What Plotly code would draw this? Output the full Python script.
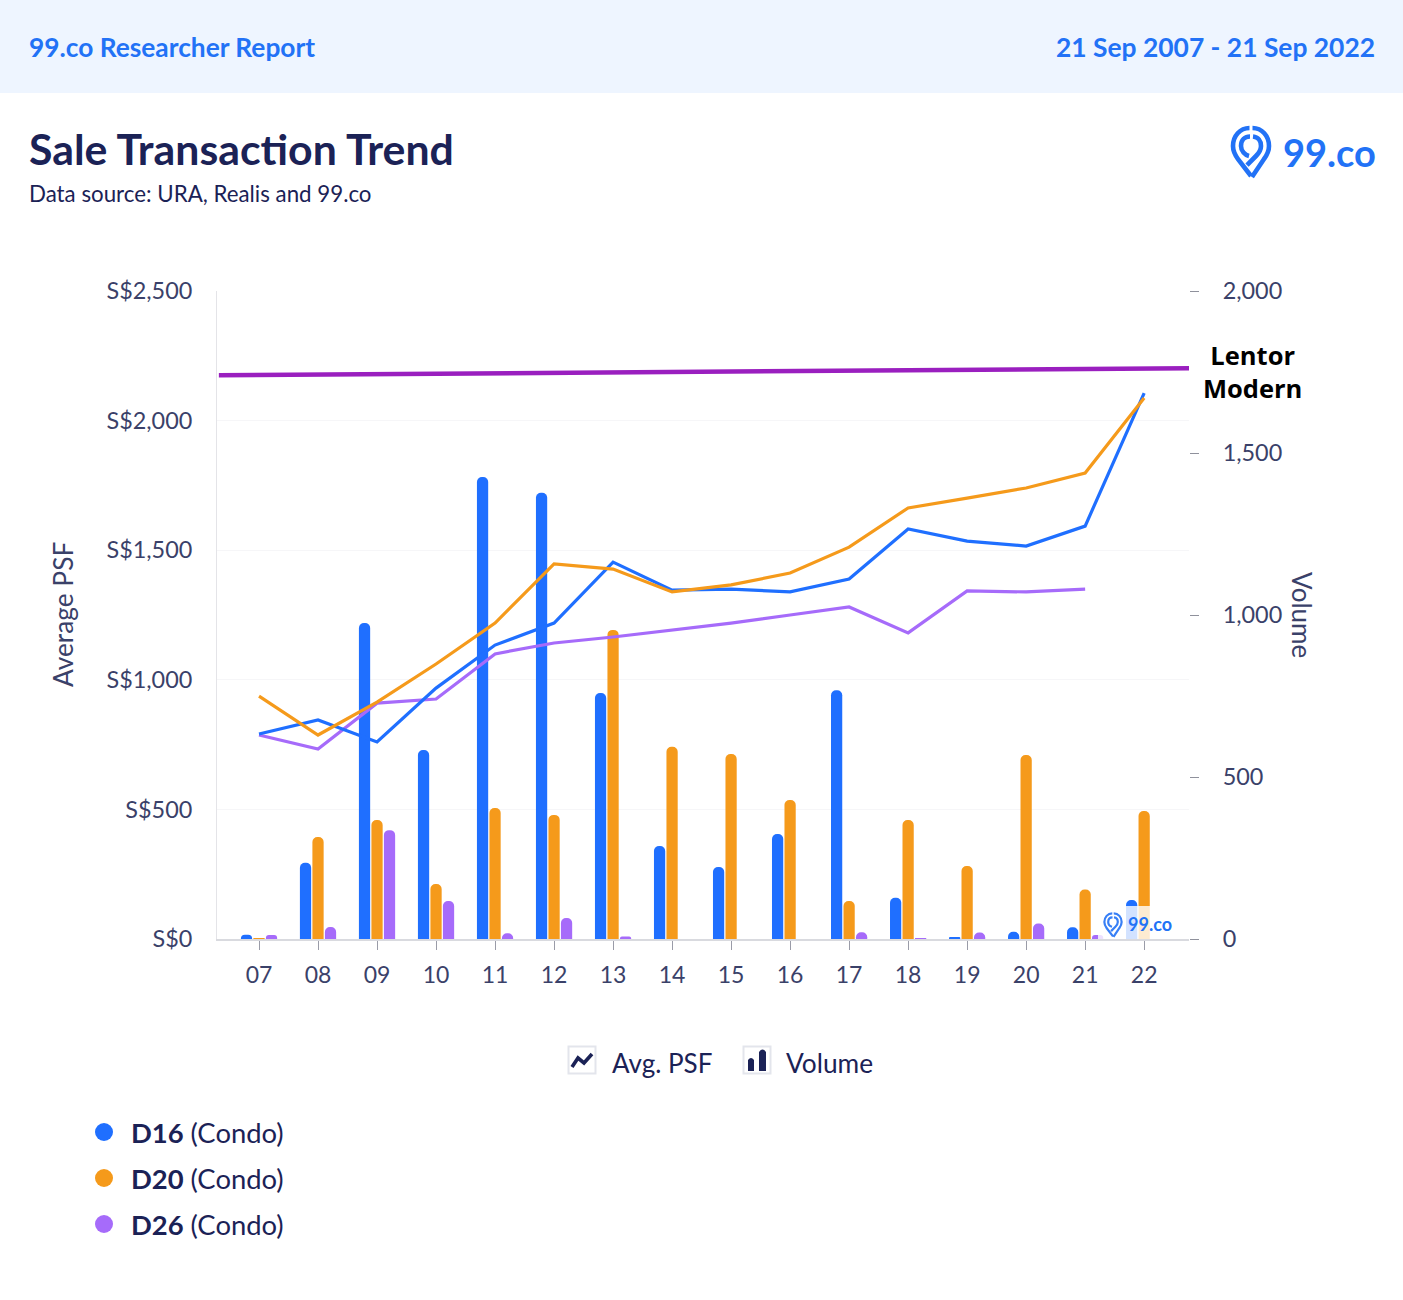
import plotly.graph_objects as go

categories = ["07","08","09","10","11","12","13","14","15","16","17","18","19","20","21","22"]
positions = list(range(len(categories)))

vol_d16 = [13,235,975,583,1426,1377,759,287,222,324,768,127,4,22,36,120]
vol_d20 = [3,315,367,170,404,383,954,593,571,429,117,367,225,568,153,395]
vol_d26 = [12,37,336,117,18,65,8,None,None,None,21,3,20,48,12,None]

psf_d16 = [791,845,760,968,1134,1219,1454,1346,1350,1339,1389,1582,1535,1516,1593,2106]
psf_d20 = [937,787,914,1061,1219,1447,1427,1339,1366,1412,1512,1663,1701,1740,1798,2087]
psf_d26 = [787,733,910,926,1100,1142,1165,1192,1219,1250,1281,1181,1343,1339,1350,None]

lentor_x = [-0.68, 15.76]
lentor_psf = [2175, 2202]

left_ticks = [0,500,1000,1500,2000,2500]
left_labels = ["S$0","S$500","S$1,000","S$1,500","S$2,000","S$2,500"]
right_ticks = [0,500,1000,1500,2000]
right_labels = ["0","500","1,000","1,500","2,000"]

BLUE, ORANGE, PURPLE = "#1F6FFF", "#F59A1B", "#A66BFA"
NAVY, TICK, BRAND = "#1B2256", "#3A4169", "#2272F6"
FONT = "Lato"
W, H = 1403, 1300
L, R, T, B = 217, 1189, 291, 939

def px(x): return (x - L) / (R - L)
def py(y): return 1 - (y - T) / (B - T)
def P(x, y): return f"{px(x):.5f},{py(y):.5f}"

def rect(x0, y0, x1, y1, **kw):
    return dict(type="rect", xref="paper", yref="paper", x0=px(x0), x1=px(x1), y0=py(y1), y1=py(y0), **kw)

def path(cmds, **kw):
    parts = []
    for c in cmds:
        parts.append(c[0] + " ".join(P(c[i], c[i+1]) for i in range(1, len(c), 2)))
    return dict(type="path", xref="paper", yref="paper", path=" ".join(parts), **kw)

def text(x, y, s, size, color=NAVY, anchor="left", family=FONT, **kw):
    return dict(xref="paper", yref="paper", x=px(x), y=py(y), text=s, showarrow=False, xanchor=anchor, yanchor="middle",
                font=dict(family=family, size=size, color=color), align=kw.pop("align", "left"), **kw)

def pin(cx, cy, s, width, color, opacity=1):
    def t(*a): return [cx + a[i]*s if i % 2 == 0 else cy + a[i]*s for i in range(len(a))]
    line = dict(color=color, width=width)
    return [
        path([("M", *t(-1.5,-18)), ("C", *t(-11,-18,-18,-10,-18,0)), ("C", *t(-18,5,-16,9,-13,13)), ("L", *t(0,30))], line=line, opacity=opacity),
        path([("M", *t(1.5,-18)), ("C", *t(11,-18,18,-10,18,0)), ("C", *t(18,5,16,9,13,13)), ("L", *t(1,31))], line=line, opacity=opacity),
        path([("M", *t(-1,-9.5)), ("C", *t(-6,-9.5,-10,-6,-10,0)), ("C", *t(-10,5,-6,9,-2,10))], line=line, opacity=opacity),
        path([("M", *t(2,-9.5)), ("C", *t(7,-9,10,-5,10,0)), ("C", *t(10,4,8,7,5,10)), ("L", *t(-4,19))], line=line, opacity=opacity),
    ]

fig = go.Figure()
for name, vals, col in [("D16", vol_d16, BLUE), ("D20", vol_d20, ORANGE), ("D26", vol_d26, PURPLE)]:
    fig.add_trace(go.Bar(x=positions, y=vals, name=name, marker=dict(color=col, line_width=0), yaxis="y"))
for name, vals, col in [("D26", psf_d26, PURPLE), ("D16", psf_d16, BLUE), ("D20", psf_d20, ORANGE)]:
    fig.add_trace(go.Scatter(x=positions, y=vals, name=name, mode="lines", line=dict(color=col, width=3.2), yaxis="y2", connectgaps=False))
fig.add_trace(go.Scatter(x=lentor_x, y=lentor_psf, name="Lentor Modern", mode="lines", line=dict(color="#9A1FBF", width=4.5), yaxis="y2", cliponaxis=False))

shapes = [
    rect(0, 0, W, 93, fillcolor="#EEF5FF", line_width=0, layer="below"),
    rect(1098, 906, 1182, 939, fillcolor="rgba(255,255,255,0.8)", line_width=0, layer="above"),
    rect(568.5, 1046.5, 595.5, 1073.5, line=dict(color="#E3E5EC", width=2), fillcolor="white"),
    path([("M", 572, 1067), ("L", 578, 1058), ("L", 584, 1063), ("L", 592, 1054)], line=dict(color=NAVY, width=3.6)),
    rect(743.5, 1046.5, 770.5, 1073.5, line=dict(color="#E3E5EC", width=2), fillcolor="white"),
    path([("M",748,1071),("L",748,1060),("Q",751,1056,754,1060),("L",754,1071),("Z",)], fillcolor=NAVY, line_width=0),
    path([("M",759,1071),("L",759,1052),("Q",762.5,1047,766,1052),("L",766,1071),("Z",)], fillcolor=NAVY, line_width=0),
]
for yy, col in [(1132, BLUE), (1178, ORANGE), (1224, PURPLE)]:
    shapes.append(dict(type="circle", xref="paper", yref="paper", x0=px(95), x1=px(113), y0=py(yy+9), y1=py(yy-9), fillcolor=col, line_width=0))
shapes += pin(1251, 146, 1.0, 4.6, BRAND)
shapes += pin(1113, 922, 0.48, 2.2, BRAND, 0.9)

annotations = [
    text(27, 47, "<b>99.co Researcher Report</b>", 26.3, BRAND),
    text(1377, 47, "<b>21 Sep 2007 - 21 Sep 2022</b>", 26.4, BRAND, anchor="right", align="right"),
    text(27, 149, "<b>Sale Transaction Trend</b>", 42.8, NAVY),
    text(27, 194, "Data source: URA, Realis and 99.co", 22.3, NAVY),
    text(1281, 152, "<b>99.co</b>", 38, BRAND),
    text(1126, 924, "<b>99.co</b>", 18, BRAND),
    text(63, 615, "Average PSF", 26.3, TICK, anchor="center", textangle=-90),
    text(1302, 615, "Volume", 26, TICK, anchor="center", textangle=90),
    text(1252, 371, "<b>Lentor<br>Modern</b>", 25.5, "#000000", anchor="center", family="Open Sans", align="center"),
    text(610, 1063, "Avg. PSF", 26, NAVY),
    text(784, 1063, "Volume", 26.3, NAVY),
]
for yy, lab in [(1132, "D16"), (1178, "D20"), (1224, "D26")]:
    annotations.append(text(129, yy, f"<b>{lab}</b> (Condo)", 27.4, NAVY))

fig.update_layout(
    width=W, height=H, autosize=False,
    margin=dict(l=L, r=W-R, t=T, b=H-B, pad=0),
    paper_bgcolor="white", plot_bgcolor="white",
    showlegend=False, barmode="group", bargap=0.365, bargroupgap=0.1, barcornerradius=5.5,
    font=dict(family=FONT, color=TICK),
    xaxis=dict(range=[-0.712, 15.76], tickmode="array", tickvals=positions, ticktext=categories,
               ticks="outside", ticklen=9, tickcolor="#9A9CA8", tickwidth=1, showgrid=False, zeroline=False,
               showline=True, linecolor="#D9DADF", linewidth=2, tickfont=dict(size=23, color=TICK), ticklabelstandoff=5),
    yaxis=dict(side="right", range=[0, 2000], tickmode="array", tickvals=right_ticks, ticktext=right_labels,
               ticks="outside", ticklen=9, tickcolor="#8F919C", tickwidth=1, showgrid=False, zeroline=False, showline=False,
               tickfont=dict(size=23.4, color=TICK), ticklabelstandoff=19),
    yaxis2=dict(side="left", overlaying="y", range=[0, 2500], tickmode="array", tickvals=left_ticks, ticktext=left_labels,
                showgrid=True, gridcolor="#F6F6F8", gridwidth=1, zeroline=False, showline=True, linecolor="#E4E4E8", linewidth=1,
                ticks="", tickfont=dict(size=23.4, color=TICK), ticklabelstandoff=19),
    shapes=shapes, annotations=annotations,
)

fig.write_html("out.html", post_script="document.body.style.margin='0';", config=dict(displayModeBar=False))
